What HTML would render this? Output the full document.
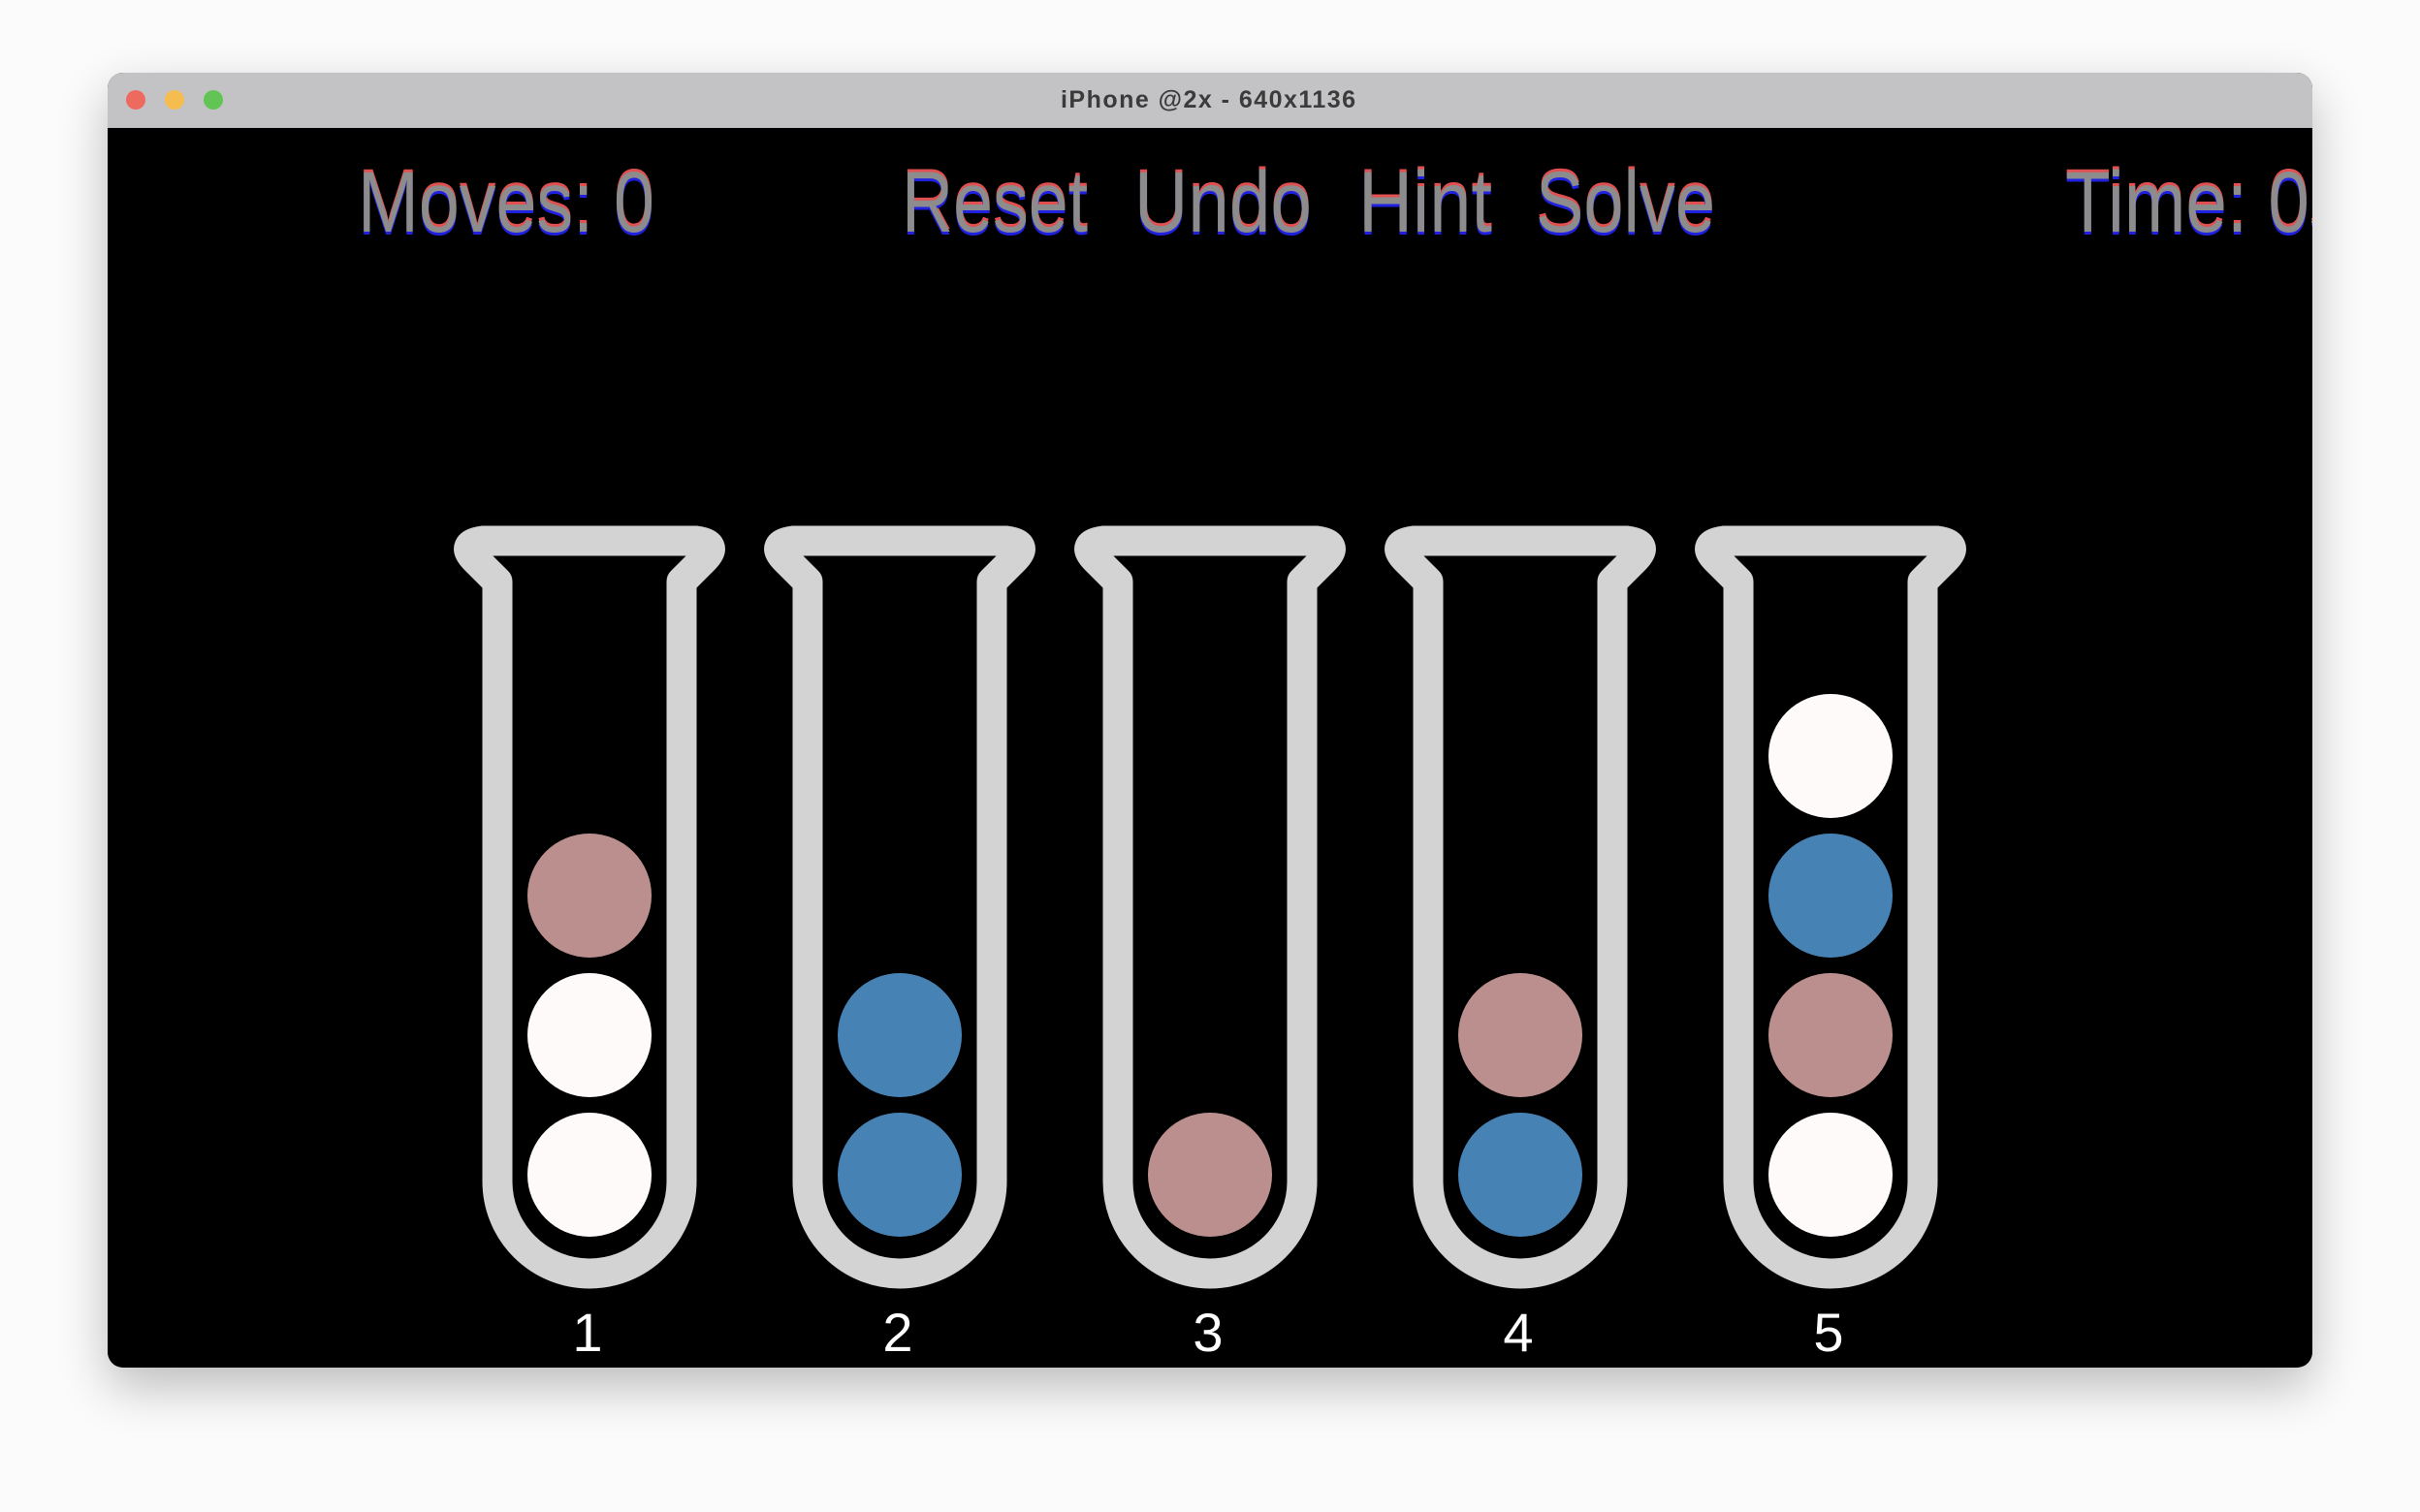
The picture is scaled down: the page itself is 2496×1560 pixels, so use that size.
<!DOCTYPE html>
<html><head><meta charset="utf-8"><style>
html,body{margin:0;padding:0;background:#fbfbfb;}
svg{display:block;}
</style></head><body>
<svg width="2496" height="1560" viewBox="0 0 2496 1560" xmlns="http://www.w3.org/2000/svg">
<defs>
<filter id="sh" x="-10%" y="-10%" width="120%" height="130%"><feGaussianBlur stdDeviation="26"/></filter>
<clipPath id="win"><rect x="111" y="75" width="2274" height="1336" rx="16"/></clipPath>
</defs>
<rect x="111" y="95" width="2274" height="1336" rx="16" fill="#000" opacity="0.25" filter="url(#sh)"/>
<g clip-path="url(#win)">
<rect x="111" y="75" width="2274" height="1336" fill="#000"/>
<rect x="111" y="75" width="2274" height="57" fill="#c3c3c5"/>
<text x="1246" y="111" text-anchor="middle" font-family="Liberation Sans, sans-serif" font-weight="bold" font-size="25" fill="#3b3b3b" textLength="304">iPhone @2x - 640x1136</text>
<circle cx="140" cy="103" r="10" fill="#ee6a5f"/>
<circle cx="180" cy="103" r="10" fill="#f5bd4f"/>
<circle cx="220" cy="103" r="10" fill="#61c454"/>
<g font-family="Liberation Sans, sans-serif" font-size="89" id="hdr">
<g>
<text x="369" y="236" fill="#e05050" textLength="306" lengthAdjust="spacingAndGlyphs">Moves: 0</text>
<text x="369" y="242" fill="#2020e0" textLength="306" lengthAdjust="spacingAndGlyphs">Moves: 0</text>
<text x="369" y="239" fill="#8c8c8c" textLength="306" lengthAdjust="spacingAndGlyphs">Moves: 0</text></g>
<g>
<text x="930" y="236" fill="#e05050" textLength="192" lengthAdjust="spacingAndGlyphs">Reset</text>
<text x="930" y="242" fill="#2020e0" textLength="192" lengthAdjust="spacingAndGlyphs">Reset</text>
<text x="930" y="239" fill="#8c8c8c" textLength="192" lengthAdjust="spacingAndGlyphs">Reset</text></g>
<g>
<text x="1170" y="236" fill="#e05050" textLength="183" lengthAdjust="spacingAndGlyphs">Undo</text>
<text x="1170" y="242" fill="#2020e0" textLength="183" lengthAdjust="spacingAndGlyphs">Undo</text>
<text x="1170" y="239" fill="#8c8c8c" textLength="183" lengthAdjust="spacingAndGlyphs">Undo</text></g>
<g>
<text x="1401" y="236" fill="#e05050" textLength="138" lengthAdjust="spacingAndGlyphs">Hint</text>
<text x="1401" y="242" fill="#2020e0" textLength="138" lengthAdjust="spacingAndGlyphs">Hint</text>
<text x="1401" y="239" fill="#8c8c8c" textLength="138" lengthAdjust="spacingAndGlyphs">Hint</text></g>
<g>
<text x="1584" y="236" fill="#e05050" textLength="185" lengthAdjust="spacingAndGlyphs">Solve</text>
<text x="1584" y="242" fill="#2020e0" textLength="185" lengthAdjust="spacingAndGlyphs">Solve</text>
<text x="1584" y="239" fill="#8c8c8c" textLength="185" lengthAdjust="spacingAndGlyphs">Solve</text></g>
<g>
<text x="2130" y="236" fill="#e05050" textLength="290" lengthAdjust="spacingAndGlyphs">Time: 0s</text>
<text x="2130" y="242" fill="#2020e0" textLength="290" lengthAdjust="spacingAndGlyphs">Time: 0s</text>
<text x="2130" y="239" fill="#8c8c8c" textLength="290" lengthAdjust="spacingAndGlyphs">Time: 0s</text></g>
</g>
<g id="tubes"></g>
</g>
</svg>
<script>
const tubeLabels = ["1","2","3","4","5"];
// balls listed bottom to top
const tubeBalls = [
  ["white","white","brown"],
  ["blue","blue"],
  ["brown"],
  ["blue","brown"],
  ["white","brown","blue","white"]
];
const colorMap = {white:"#fffafa", blue:"#4682b4", brown:"#bc8f8f"};
const NS="http://www.w3.org/2000/svg";
const g=document.getElementById('tubes');
const x0=608, dx=320, slotBottom=1212, slotH=144, r=64;
function tubeX(i){return x0+i*dx;}
function slotY(j){return slotBottom-j*slotH;}
tubeLabels.forEach((lab,i)=>{
  const c=tubeX(i);
  const p=document.createElementNS(NS,'path');
  
  
  p.setAttribute('d',`M${c-95},1219 L${c-95},600 L${c-118},577 Q${c-134},561 ${c-110},558 L${c+110},558 Q${c+134},561 ${c+118},577 L${c+95},600 L${c+95},1219 A95,95 0 0 1 ${c-95},1219 Z`);
  p.setAttribute('fill','none');p.setAttribute('stroke','#d3d3d3');p.setAttribute('stroke-width','31');p.setAttribute('stroke-linejoin','round');
  g.appendChild(p);
  tubeBalls[i].forEach((col,j)=>{
    const b=document.createElementNS(NS,'circle');
    
    
    b.setAttribute('cx',c);b.setAttribute('cy',slotY(j));b.setAttribute('r',r);b.setAttribute('fill',colorMap[col]);
    g.appendChild(b);
  });
  const t=document.createElementNS(NS,'text');
  
  
  t.setAttribute('x',c-2);t.setAttribute('y',1394);t.setAttribute('text-anchor','middle');
  t.setAttribute('font-family','Liberation Sans, sans-serif');t.setAttribute('font-size','56');t.setAttribute('fill','#fff');
  t.textContent=lab;g.appendChild(t);
});
</script>
</body></html>
